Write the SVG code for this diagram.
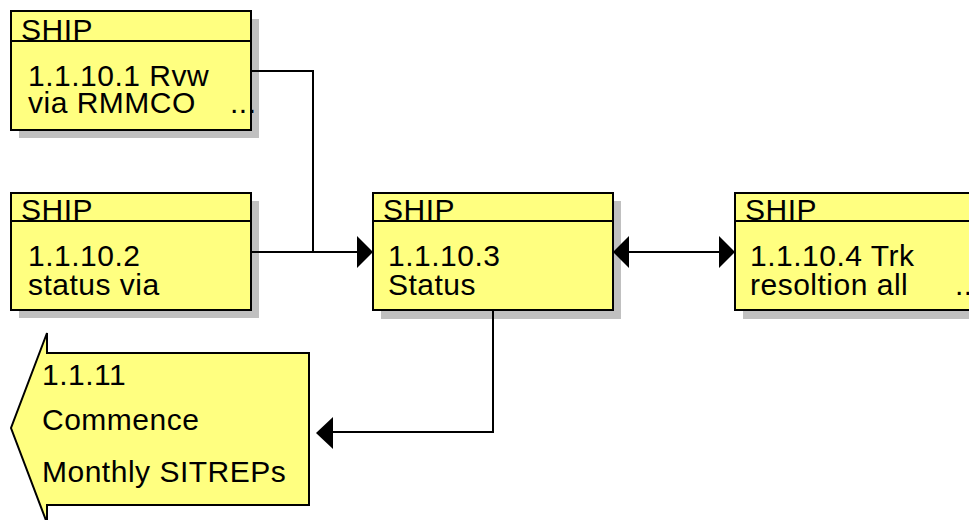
<svg xmlns="http://www.w3.org/2000/svg" width="969" height="520" viewBox="0 0 969 520">
<style>
.box{fill:#FFFF80;stroke:#000;stroke-width:2}
.sh{fill:#C0C0C0}
.hl{stroke:#000;stroke-width:2}
.t{font-family:"Liberation Sans",Arial,sans-serif;font-size:30px;letter-spacing:0.5px;fill:#000}
.c{fill:none;stroke:#000;stroke-width:2}
.ah{fill:#000}
</style>
<rect width="969" height="520" fill="#fff"/>
<g id="n1">
<rect class="sh" x="19" y="19" width="240" height="119"/>
<rect class="box" x="11" y="11" width="240" height="119"/>
<line class="hl" x1="11" y1="41" x2="251" y2="41"/>
<text class="t" x="21" y="40">SHIP</text>
<text class="t" x="28" y="86">1.1.10.1 Rvw</text>
<text class="t" x="28" y="113">via RMMCO</text>
<text class="t" x="230" y="113">...</text>
</g>
<g id="n2">
<rect class="sh" x="19" y="201" width="240" height="117"/>
<rect class="box" x="11" y="193" width="240" height="117"/>
<line class="hl" x1="11" y1="221" x2="251" y2="221"/>
<text class="t" x="21" y="220">SHIP</text>
<text class="t" x="28" y="266">1.1.10.2</text>
<text class="t" x="28" y="295">status via</text>
</g>
<g id="n3">
<rect class="sh" x="381" y="201" width="240" height="118"/>
<rect class="box" x="373" y="193" width="240" height="117"/>
<line class="hl" x1="373" y1="221" x2="613" y2="221"/>
<text class="t" x="383" y="220">SHIP</text>
<text class="t" x="388" y="266">1.1.10.3</text>
<text class="t" x="388" y="295">Status</text>
</g>
<g id="n4">
<rect class="sh" x="743" y="201" width="240" height="118"/>
<rect class="box" x="735" y="193" width="240" height="117"/>
<line class="hl" x1="735" y1="221" x2="975" y2="221"/>
<text class="t" x="745" y="220">SHIP</text>
<text class="t" x="750" y="266">1.1.10.4 Trk</text>
<text class="t" x="750" y="295">resoltion all</text>
<text class="t" x="955" y="295">...</text>
</g>
<g id="n5">
<polygon class="box" points="309,353 47,353 47,333 11,428 47,523 47,505 309,505"/>
<text class="t" x="42" y="385">1.1.11</text>
<text class="t" x="42" y="430">Commence</text>
<text class="t" x="42" y="482">Monthly SITREPs</text>
</g>
<g id="connectors">
<polyline class="c" points="251,71 313,71 313,252"/>
<line class="c" x1="251" y1="252" x2="358" y2="252"/>
<polygon class="ah" points="357,236 373,252 357,268"/>
<line class="c" x1="628" y1="252" x2="719" y2="252"/>
<polygon class="ah" points="629,236 613,252 629,268"/>
<polygon class="ah" points="719,236 735,252 719,268"/>
<polyline class="c" points="493,310 493,432 332,432"/>
<polygon class="ah" points="333,417 316,433 333,449"/>
</g>
</svg>
